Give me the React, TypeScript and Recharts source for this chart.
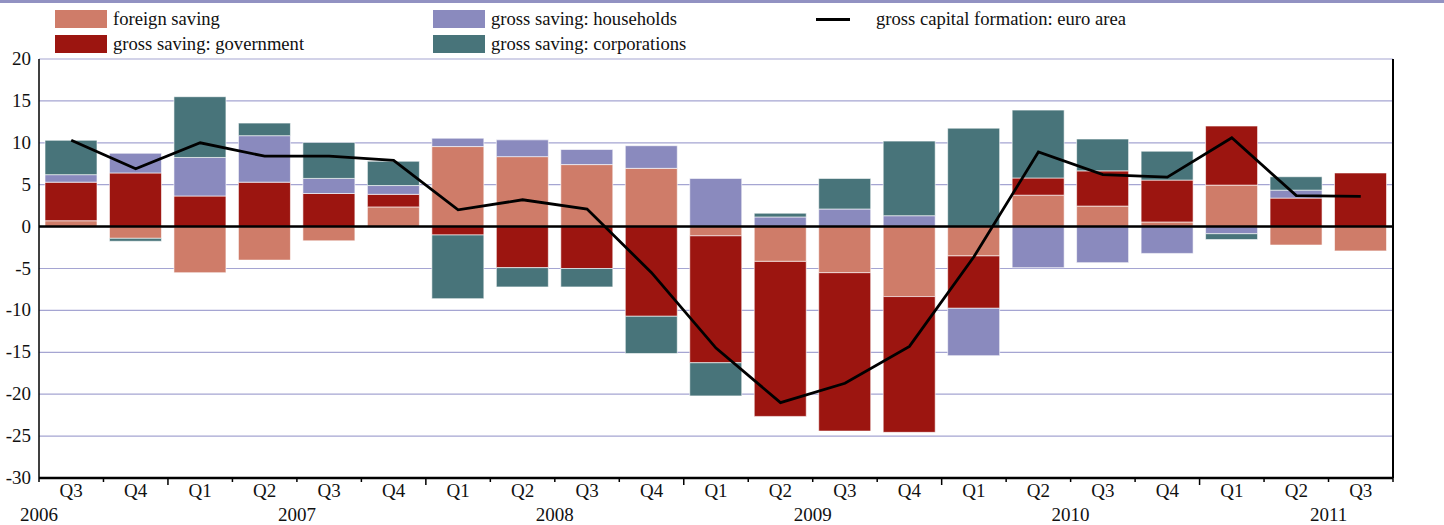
import React from 'react';
import { ComposedChart, Bar, Line, XAxis, YAxis, CartesianGrid, ReferenceLine } from 'recharts';

const quarters = ['Q3', 'Q4', 'Q1', 'Q2', 'Q3', 'Q4', 'Q1', 'Q2', 'Q3', 'Q4', 'Q1', 'Q2', 'Q3', 'Q4', 'Q1', 'Q2', 'Q3', 'Q4', 'Q1', 'Q2', 'Q3'];
const years = ['2006', '2006', '2007', '2007', '2007', '2007', '2008', '2008', '2008', '2008', '2009', '2009', '2009', '2009', '2010', '2010', '2010', '2010', '2011', '2011', '2011'];

const foreignSaving = [0.7, -1.4, -5.5, -4.0, -1.7, 2.35, 9.55, 8.35, 7.4, 6.95, -1.1, -4.15, -5.5, -8.35, -3.5, 3.75, 2.45, 0.55, 4.95, -2.2, -2.9];
const government = [4.6, 6.4, 3.65, 5.3, 3.95, 1.5, -1.0, -4.9, -5.0, -10.7, -15.15, -18.5, -18.9, -16.2, -6.25, 2.05, 4.2, 5.0, 7.05, 3.4, 6.4];
const households = [0.9, 2.35, 4.6, 5.55, 1.8, 1.05, 1.0, 2.0, 1.8, 2.7, 5.75, 1.15, 2.1, 1.3, -5.65, -4.9, -4.3, -3.2, -0.85, 0.95, 0];
const corporations = [4.1, -0.35, 7.25, 1.5, 4.3, 2.9, -7.6, -2.3, -2.2, -4.45, -3.95, 0.45, 3.65, 8.9, 11.75, 8.1, 3.8, 3.45, -0.7, 1.6, 0];
const capitalFormation = [10.3, 6.9, 10.0, 8.4, 8.4, 7.9, 2.0, 3.2, 2.1, -5.5, -14.5, -21.0, -18.7, -14.3, -3.6, 8.9, 6.2, 5.9, 10.6, 3.7, 3.6];

const yTicks = [-30, -25, -20, -15, -10, -5, 0, 5, 10, 15, 20];

const data = quarters.map((q, i) => ({
  period: `${years[i]} ${q}`,
  foreign: foreignSaving[i],
  government: government[i],
  households: households[i],
  corporations: corporations[i],
  gcf: capitalFormation[i],
}));

const W = 1444;
const H = 525;
const LEFT = 39;
const RIGHT = 51;
const TOP = 59;
const XH = 47;
const BAND = (W - LEFT - RIGHT) / quarters.length;
const AXIS_Y = H - XH;
const FONT = "'Liberation Serif', 'Times New Roman', serif";
const FS = 18.6;
const txt = { fontFamily: FONT, fontSize: 19, fill: '#111' };

const colors = {
  foreign: '#cf7c69',
  government: '#9c1510',
  households: '#8a8abe',
  corporations: '#48747a',
};

const XTick = (props: any) => {
  const { x, index } = props;
  const q = quarters[index];
  const isLast = index === quarters.length - 1;
  const long = q === 'Q4' && !isLast;
  return (
    <g>
      {index === 0 && <line x1={x - BAND / 2} x2={x - BAND / 2} y1={AXIS_Y} y2={AXIS_Y + 4} stroke="#000" strokeWidth={1.5} />}
      <line x1={x + BAND / 2} x2={x + BAND / 2} y1={AXIS_Y} y2={AXIS_Y + (long ? 7 : 4)} stroke="#000" strokeWidth={1.5} />
      <text x={x} y={AXIS_Y + 19} textAnchor="middle" style={txt}>
        {q}
      </text>
      {q === 'Q3' && (
        <text x={x - BAND / 2} y={AXIS_Y + 43} textAnchor="middle" style={txt}>
          {years[index]}
        </text>
      )}
    </g>
  );
};

const LeftTick = (props: any) => (
  <text x={31} y={props.y} dy={6} textAnchor="end" style={txt}>
    {props.payload.value}
  </text>
);

const RightTick = (props: any) => (
  <text x={1428} y={props.y} dy={6} textAnchor="end" style={txt}>
    {props.payload.value}
  </text>
);

const legendItems = [
  { label: 'foreign saving', color: colors.foreign, x: 55, y: 10, kind: 'box' },
  { label: 'gross saving: government', color: colors.government, x: 55, y: 35, kind: 'box' },
  { label: 'gross saving: households', color: colors.households, x: 433, y: 10, kind: 'box' },
  { label: 'gross saving: corporations', color: colors.corporations, x: 433, y: 35, kind: 'box' },
  { label: 'gross capital formation: euro area', color: '#000', x: 816, y: 10, kind: 'line' },
];

export default function App() {
  return (
    <div style={{ position: 'absolute', left: 0, top: 0, width: W, height: H, background: '#fff', fontFamily: FONT }}>
      <div style={{ position: 'absolute', left: 0, top: 0, width: W, height: 3, background: '#9292c2' }} />
      {legendItems.map((it) => (
        <div key={it.label} style={{ position: 'absolute', left: it.x, top: it.y, height: 18, display: 'flex', alignItems: 'center' }}>
          {it.kind === 'box' ? (
            <div style={{ width: 52, height: 18, background: it.color, marginRight: 6 }} />
          ) : (
            <div style={{ width: 34, height: 3, background: it.color, marginRight: 26 }} />
          )}
          <span style={{ fontSize: FS, color: '#111', whiteSpace: 'nowrap', lineHeight: '18px' }}>{it.label}</span>
        </div>
      ))}
      <div style={{ position: 'absolute', left: 0, top: 0 }}>
        <ComposedChart
          width={W}
          height={H}
          data={data}
          stackOffset="sign"
          barSize={52}
          margin={{ top: TOP, right: 0, left: 0, bottom: 0 }}
        >
          <CartesianGrid vertical={false} stroke="#a5a5d2" strokeWidth={1.2} yAxisId="left" />
          <XAxis
            dataKey="period"
            interval={0}
            height={XH}
            tickLine={false}
            axisLine={{ stroke: '#000', strokeWidth: 2.5 }}
            tick={<XTick />}
          />
          <YAxis
            yAxisId="left"
            width={LEFT}
            domain={[-30, 20]}
            ticks={yTicks}
            tickLine={false}
            axisLine={{ stroke: '#000', strokeWidth: 1.5 }}
            tick={<LeftTick />}
          />
          <YAxis
            yAxisId="right"
            orientation="right"
            width={RIGHT}
            domain={[-30, 20]}
            ticks={yTicks}
            tickLine={false}
            axisLine={{ stroke: '#000', strokeWidth: 2 }}
            tick={<RightTick />}
          />
          <Bar yAxisId="left" dataKey="foreign" stackId="s" fill={colors.foreign} stroke="#fff" strokeOpacity={0.6} strokeWidth={1} isAnimationActive={false} />
          <Bar yAxisId="left" dataKey="government" stackId="s" fill={colors.government} stroke="#fff" strokeOpacity={0.6} strokeWidth={1} isAnimationActive={false} />
          <Bar yAxisId="left" dataKey="households" stackId="s" fill={colors.households} stroke="#fff" strokeOpacity={0.6} strokeWidth={1} isAnimationActive={false} />
          <Bar yAxisId="left" dataKey="corporations" stackId="s" fill={colors.corporations} stroke="#fff" strokeOpacity={0.6} strokeWidth={1} isAnimationActive={false} />
          <ReferenceLine yAxisId="left" y={0} stroke="#000" strokeWidth={2.5} />
          <Line yAxisId="left" dataKey="gcf" type="linear" stroke="#000" strokeWidth={2.8} dot={false} isAnimationActive={false} />
        </ComposedChart>
      </div>
    </div>
  );
}
